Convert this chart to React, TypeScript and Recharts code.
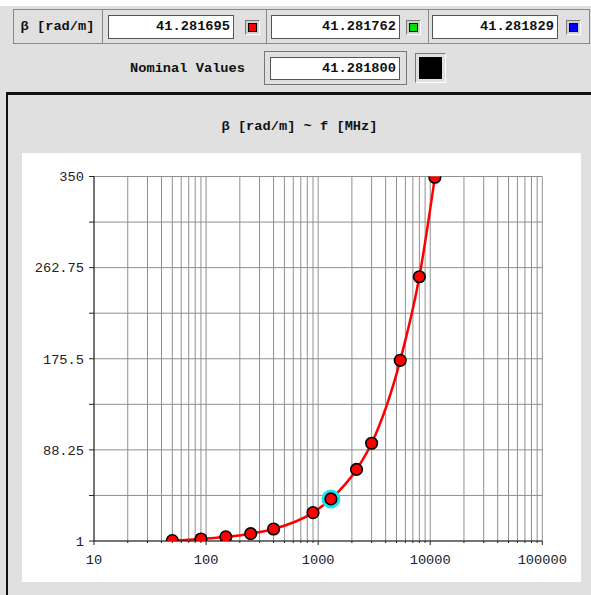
import React from 'react';
import { LineChart, Line, XAxis, YAxis, CartesianGrid } from 'recharts';

const FREQ_MHZ = [50, 90, 150, 250, 400, 900, 1300, 2200, 3000, 5400, 8000, 11000];
const BETA = [1.4, 2.9, 5.0, 8.0, 12.5, 28.2, 41.28, 69.5, 94.6, 174.0, 254.0, 349.3];
const HIGHLIGHT_INDEX = 6;

const X_DECADES = [10, 100, 1000, 10000];
const X_STEPS = [1, 2, 3, 4, 5, 6, 7, 8, 9];
const X_LABELS = [10, 100, 1000, 10000, 100000];
const Y_TICKS = [1, 44.625, 88.25, 131.875, 175.5, 219.125, 262.75, 306.375, 350];
const Y_LABELS = [1, 88.25, 175.5, 262.75, 350];

const SAMPLE_VALUES = ['41.281695', '41.281762', '41.281829'];
const SAMPLE_COLORS = ['#ff0000', '#00e000', '#0000ff'];
const NOMINAL_VALUE = '41.281800';

const xTicks = [...X_DECADES.flatMap((d) => X_STEPS.map((s) => d * s)), 100000];
const data = FREQ_MHZ.map((f, i) => ({ f, beta: BETA[i] }));

const MONO = '"Liberation Mono", "DejaVu Sans Mono", monospace';

const XTick = (props: any) => {
  const { x, y, payload } = props;
  const major = X_LABELS.includes(payload.value);
  return (
    <g>
      <line x1={x} x2={x} y1={y} y2={y + (major ? 4 : 2)} stroke="#222" />
      {major && (
        <text x={x} y={y + 18} textAnchor="middle" dy="0.35em" fontFamily={MONO} fontSize={13.7} fill="#222">
          {payload.value}
        </text>
      )}
    </g>
  );
};

const renderDot = (props: any) => {
  const { cx, cy, index } = props;
  return (
    <g key={`dot-${index}`}>
      {index === HIGHLIGHT_INDEX && <circle cx={cx} cy={cy} r={9.5} fill="#19e6f0" />}
      <circle cx={cx} cy={cy} r={5.8} fill="#ff0000" stroke="#000" strokeWidth={1.6} />
    </g>
  );
};

const Swatch = ({ left, top, color }: { left: number; top: number; color: string }) => (
  <div
    style={{
      position: 'absolute', left, top, width: 15, height: 15, boxSizing: 'border-box',
      borderTop: '1px solid #7a7a7a', borderLeft: '1px solid #7a7a7a',
      borderRight: '1px solid #fff', borderBottom: '1px solid #fff',
      background: '#cfcfcf', padding: 2,
    }}
  >
    <div style={{ width: '100%', height: '100%', boxSizing: 'border-box', border: '1px solid #000', background: color }} />
  </div>
);

const Field = ({ left, top, width, height, value }: { left: number; top: number; width: number; height: number; value: string }) => (
  <div
    style={{
      position: 'absolute', left, top, width, height, boxSizing: 'border-box',
      border: '1px solid #555', background: '#fff', textAlign: 'right', paddingRight: 3,
      fontFamily: MONO, fontWeight: 'bold', fontSize: 13.7, lineHeight: `${height - 2}px`, color: '#111',
    }}
  >
    {value}
  </div>
);

const fieldLefts = [108, 271, 432];
const fieldWidths = [126, 129, 126];
const swatchLefts = [245, 406, 566];

export default function App() {
  return (
    <div style={{ position: 'fixed', left: 0, top: 0, width: 591, height: 595, background: '#e0e0e0', overflow: 'hidden' }}>
      <div style={{ position: 'absolute', left: 0, top: 0, width: 591, height: 6, background: '#fff' }} />

      {/* sample values row */}
      <div style={{ position: 'absolute', left: 13, top: 9, width: 577, height: 35, boxSizing: 'border-box', border: '1px solid #888' }} />
      {[102, 266, 428].map((x) => (
        <div key={x} style={{ position: 'absolute', left: x, top: 9, width: 1, height: 35, background: '#888' }} />
      ))}
      <div style={{ position: 'absolute', left: 13, top: 9, width: 89, height: 35, lineHeight: '35px', textAlign: 'center', fontFamily: MONO, fontWeight: 'bold', fontSize: 13.7, color: '#111' }}>
        β [rad/m]
      </div>
      {SAMPLE_VALUES.map((v, i) => (
        <React.Fragment key={v}>
          <Field left={fieldLefts[i]} top={15} width={fieldWidths[i]} height={24} value={v} />
          <Swatch left={swatchLefts[i]} top={20} color={SAMPLE_COLORS[i]} />
        </React.Fragment>
      ))}

      {/* nominal row */}
      <div style={{ position: 'absolute', left: 100, top: 59, width: 145, textAlign: 'right', lineHeight: '20px', fontFamily: MONO, fontWeight: 'bold', fontSize: 13.7, color: '#111' }}>
        Nominal Values
      </div>
      <div style={{ position: 'absolute', left: 264, top: 51, width: 143, height: 34, boxSizing: 'border-box', border: '1px solid #777' }} />
      <Field left={270} top={57} width={130} height={23} value={NOMINAL_VALUE} />
      <div style={{ position: 'absolute', left: 415, top: 53, width: 31, height: 30, boxSizing: 'border-box', borderTop: '1px solid #7a7a7a', borderLeft: '1px solid #7a7a7a', borderRight: '1px solid #fff', borderBottom: '1px solid #fff', padding: 3 }}>
        <div style={{ width: '100%', height: '100%', background: '#000' }} />
      </div>

      {/* chart frame */}
      <div style={{ position: 'absolute', left: 6, top: 92, width: 590, height: 510, boxSizing: 'border-box', borderTop: '3px solid #111', borderLeft: '2px solid #111' }} />
      <div style={{ position: 'absolute', left: 8, top: 118, width: 583, textAlign: 'center', fontFamily: MONO, fontWeight: 'bold', fontSize: 13.7, lineHeight: '18px', color: '#111' }}>
        β [rad/m] ~ f [MHz]
      </div>

      <div style={{ position: 'absolute', left: 22, top: 153, width: 559, height: 429, background: '#fff' }}>
        <LineChart width={559} height={429} data={data} margin={{ top: 23.5, right: 38.7, left: 0, bottom: 0 }}>
          <CartesianGrid stroke="#8f8f8f" strokeDasharray="" />
          <XAxis
            dataKey="f"
            type="number"
            scale="log"
            domain={[10, 100000]}
            ticks={xTicks}
            interval={0}
            height={41}
            tickSize={0}
            tickMargin={0}
            tick={<XTick />}
            axisLine={{ stroke: '#222' }}
            allowDataOverflow
          />
          <YAxis
            type="number"
            domain={[1, 350]}
            ticks={Y_TICKS}
            interval={0}
            width={72}
            tickSize={5}
            tickMargin={5}
            tickLine={{ stroke: '#222' }}
            axisLine={{ stroke: '#222' }}
            tickFormatter={(v: number) => (Y_LABELS.includes(v) ? String(v) : '')}
            tick={{ fontFamily: MONO, fontSize: 13.7, fill: '#222' }}
            allowDataOverflow
          />
          <Line
            dataKey="beta"
            type="monotone"
            stroke="#ff0000"
            strokeWidth={2.5}
            dot={renderDot}
            activeDot={false}
            isAnimationActive={false}
          />
        </LineChart>
      </div>
    </div>
  );
}
